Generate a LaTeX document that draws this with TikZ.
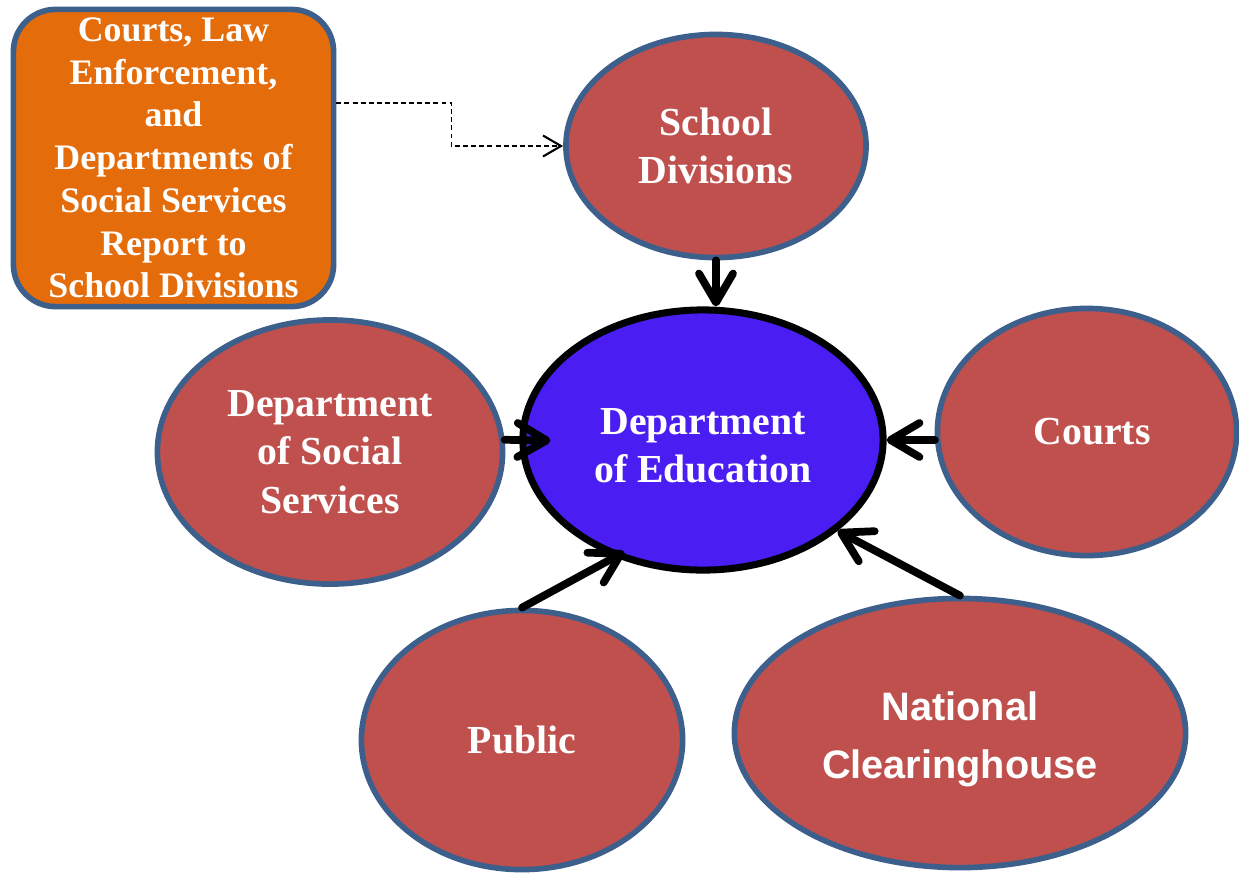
\documentclass[tikz,border=0pt]{standalone}
\usepackage{fontspec}
\setmainfont{Liberation Serif}
\newfontfamily\headsans{Liberation Sans}
\usetikzlibrary{shapes.geometric,arrows.meta}

\definecolor{agencyred}{HTML}{C0504D}
\definecolor{rimblue}{HTML}{3D5F8C}
\definecolor{reportorange}{HTML}{E46C0A}
\definecolor{hubblue}{HTML}{4A1DF2}

\tikzset{
  agency/.style={ellipse, draw=rimblue, line width=1.6pt, fill=agencyred,
    inner sep=0pt, text=white, align=center,
    font=\bfseries\fontsize{11.3}{13.7}\selectfont},
  hub/.style={agency, draw=black, line width=2pt, fill=hubblue},
  reportbox/.style={rectangle, rounded corners=0.42cm, draw=rimblue, line width=1.6pt,
    fill=reportorange, text=white, align=center, inner sep=0pt,
    font=\bfseries\fontsize{10.2}{12.15}\selectfont},
  feed/.style={line width=2.2pt, line cap=round,
    -{Straight Barb[round,length=2.9mm,width=3.4mm]}},
  notify/.style={line width=0.45pt, dash pattern=on 1.4pt off 0.9pt,
    -{Straight Barb[length=1.8mm,width=2.1mm,line width=0.6pt]}}
}

\begin{document}
\begin{tikzpicture}[x=0.01cm,y=-0.01cm]
  \useasboundingbox (0,0) rectangle (1239,872);

  % agencies around the department (an empty strut line lowers the text a little)
  \node[agency, minimum width=3.00cm, minimum height=2.23cm] (sd) at (716,146)
    {School\\Divisions};
  \node[hub, minimum width=3.60cm, minimum height=2.60cm] (doe) at (703,440)
    {\rule{0pt}{0pt}\\[-0.6ex]Department\\of Education};
  \node[agency, minimum width=3.45cm, minimum height=2.64cm] (dss) at (330,452)
    {Department\\of Social\\Services};
  \node[agency, minimum width=2.99cm, minimum height=2.47cm] (courts) at (1087,432)
    {\hspace*{0.1cm}Courts};
  \node[agency, minimum width=4.51cm, minimum height=2.69cm,
        font=\headsans\bfseries\fontsize{11.3}{16.5}\selectfont] (nc) at (960,733)
    {\rule{0pt}{0pt}\\[-5pt]National\\Clearinghouse};
  \node[agency, minimum width=3.21cm, minimum height=2.59cm] (pub) at (522,740)
    {Public};

  % reporting box
  \node[reportbox, minimum width=3.20cm, minimum height=2.97cm] (box) at (173.5,158)
    {Courts, Law\\Enforcement,\\and\\Departments of\\Social Services\\Report to\\School Divisions};

  % reports flowing into the department
  \draw[feed] (sd.south) -- (sd.south |- doe.north);
  \draw[feed, shorten >=-3.1mm] (dss.4) -- (doe.west);
  \draw[feed] (courts.183) -- (doe.east);
  \draw[feed, shorten >=-1.1mm] (pub.north) -- (doe.233);
  \draw[feed] (nc.north) -- (doe.326);

  % reports to school divisions
  \draw[notify] ([yshift=0.55cm]box.east) -- ++(115,0) |- (sd.west);
\end{tikzpicture}
\end{document}
